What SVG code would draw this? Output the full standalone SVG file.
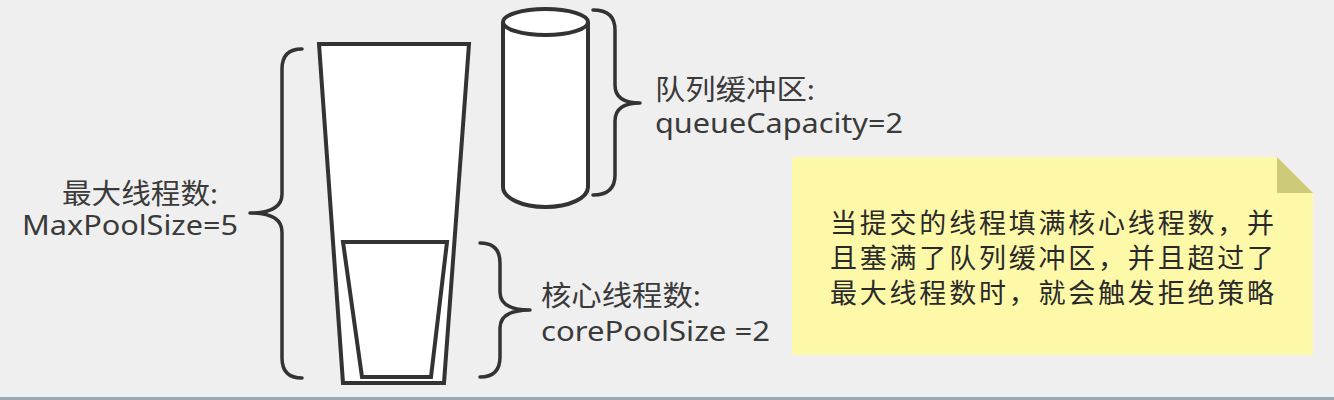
<svg xmlns="http://www.w3.org/2000/svg" width="1334" height="400" viewBox="0 0 1334 400">
  <style>
    .shape { fill: #ffffff; stroke: #333333; stroke-width: 4; stroke-linejoin: miter; }
    .brace { fill: none; stroke: #333333; stroke-width: 3.5; stroke-linecap: round; stroke-linejoin: round; }
    .label { font-family: "Noto Sans", "Noto Sans CJK SC", sans-serif; font-size: 28px; fill: #3a3a3a; }
    .note-text { font-family: "Noto Sans CJK SC", sans-serif; font-size: 27px; fill: #2a2a2a; }
  </style>
  <rect x="0" y="0" width="1334" height="400" fill="#efeff0"/>
  <rect x="0" y="397" width="1334" height="3" fill="#9aa6b1"/>

  <g id="pool">
    <polygon class="shape" points="319,44 469,44 444,383 343,383"/>
  </g>
  <g id="core">
    <polygon class="shape" points="343,242 447,242 431,377 362,377"/>
  </g>
  <g id="queue">
    <path class="shape" d="M503 22 L503 187 A42.5 20 0 0 0 588 187 L588 22"/>
    <ellipse class="shape" cx="545.5" cy="22" rx="42.5" ry="13"/>
  </g>

  <g id="connectors">
    <path class="brace" d="M302 49 Q282 49 282 69 L282 194 Q282 213 250 213 Q282 213 282 232 L282 358 Q282 378 302 378"/>
    <path class="brace" d="M480 243 Q500 243 500 263 L500 292 Q500 310 530 310 Q500 310 500 328 L500 357 Q500 377 480 377"/>
    <path class="brace" d="M593 10 Q615 10 615 30 L615 85 Q615 103 640 103 Q615 103 615 121 L615 175 Q615 195 593 195"/>
  </g>

  <g id="label-max">
    <text class="label" x="62" y="204" textLength="156" lengthAdjust="spacingAndGlyphs">最大线程数:</text>
    <text class="label" x="22" y="235" textLength="216" lengthAdjust="spacingAndGlyphs">MaxPoolSize=5</text>
  </g>
  <g id="label-queue">
    <text class="label" x="655" y="100" textLength="160" lengthAdjust="spacingAndGlyphs">队列缓冲区:</text>
    <text class="label" x="655" y="133" textLength="248" lengthAdjust="spacingAndGlyphs">queueCapacity=2</text>
  </g>
  <g id="label-core">
    <text class="label" x="541" y="306" textLength="160" lengthAdjust="spacingAndGlyphs">核心线程数:</text>
    <text class="label" x="541" y="341" textLength="229" lengthAdjust="spacingAndGlyphs">corePoolSize =2</text>
  </g>

  <g id="note">
    <path d="M792 157 L1277 157 L1313 193 L1313 355 L792 355 Z" fill="#fdf9a9"/>
    <path d="M1277 157 L1313 193 L1277 193 Z" fill="#cdca7a"/>
    <text class="note-text" x="830" y="233" textLength="444" lengthAdjust="spacing">当提交的线程填满核心线程数，并</text>
    <text class="note-text" x="830" y="268" textLength="444" lengthAdjust="spacing">且塞满了队列缓冲区，并且超过了</text>
    <text class="note-text" x="830" y="303" textLength="444" lengthAdjust="spacing">最大线程数时，就会触发拒绝策略</text>
  </g>
</svg>
